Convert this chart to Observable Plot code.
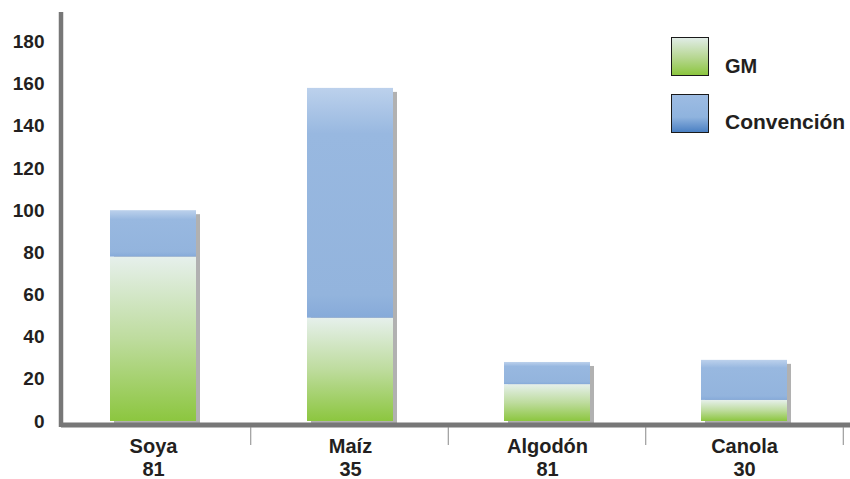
<!DOCTYPE html>
<html><head><meta charset="utf-8">
<script src="https://cdn.jsdelivr.net/npm/d3@7"></script>
<script src="https://cdn.jsdelivr.net/npm/@observablehq/plot@0.6"></script>
<style>
body{margin:0;background:#fff;}
#wrap{position:relative;width:850px;height:479px;font-family:"Liberation Sans",Arial,sans-serif;font-weight:bold;color:#231f20;}
.sw{position:absolute;box-sizing:border-box;width:38px;height:39px;border:1.5px solid #1a1a1a;}
.lt{position:absolute;line-height:20px;white-space:nowrap;}
</style></head><body><div id="wrap"></div>
<script>
const categories = ["Soya", "Maíz", "Algodón", "Canola"];
const gmShare = [81, 35, 81, 30];
const gmValues = [78, 49, 17.5, 10];
const totalValues = [100, 158, 28, 29];
const yTicks = [0, 20, 40, 60, 80, 100, 120, 140, 160, 180];
const seriesNames = ["GM", "Convención"];

const data = categories.map((c, i) => ({cat: c, gm: gmValues[i], total: totalValues[i], share: gmShare[i]}));

const chart = Plot.plot({
  width: 850, height: 479,
  marginLeft: 61, marginRight: 0, marginTop: 12, marginBottom: 58,
  x: {domain: categories, range: [53.25, 843.25], paddingInner: 0.565, paddingOuter: 0.2825, axis: null},
  y: {domain: [0, 194], axis: null},
  style: {fontFamily: '"Liberation Sans", Arial, sans-serif', fontWeight: "bold", color: "#231f20", background: "transparent", overflow: "visible"},
  marks: [
    Plot.barY(data, {x: "cat", y1: 0, y2: "total", fill: "#b1b1b1", dx: 4, dy: 4}),
    Plot.barY(data, {x: "cat", y1: 0, y2: "gm", fill: "url(#gmGrad)"}),
    Plot.barY(data, {x: "cat", y1: "gm", y2: "total", fill: "url(#convGrad)"}),
    Plot.ruleY([0], {stroke: "#777", strokeWidth: 5, dy: 3.5}),
    Plot.text(yTicks, {y: d => d, text: d => String(d), frameAnchor: "left", textAnchor: "end", dx: -17, fontSize: 19, fill: "#231f20"}),
    Plot.text(data, {x: "cat", y: 0, text: d => d.cat + "\n" + d.share, lineAnchor: "top", dy: 15, fontSize: 20, lineHeight: 1.15, fill: "#231f20"})
  ]
});

const svg = d3.select(chart);
svg.insert("defs", ":first-child").html(
  '<linearGradient id="gmGrad" x1="0" y1="0" x2="0" y2="1">' +
  '<stop offset="0" stop-color="#e6f0ec"/><stop offset="0.5" stop-color="#bedc9e"/><stop offset="1" stop-color="#8cc63f"/></linearGradient>' +
  '<linearGradient id="convGrad" x1="0" y1="0" x2="0" y2="1">' +
  '<stop offset="0" stop-color="#bcd1ec"/><stop offset="0.2" stop-color="#98b8e0"/><stop offset="0.9" stop-color="#93b4dd"/><stop offset="1" stop-color="#86aad9"/></linearGradient>'
);
const yr = chart.scale("y").range;
const xr = chart.scale("x").range;
const step = (xr[1] - xr[0]) / categories.length;
// y axis line
svg.append("line").attr("x1", 61).attr("x2", 61).attr("y1", Math.min(...yr)).attr("y2", Math.max(...yr) + 6)
  .attr("stroke", "#777").attr("stroke-width", 4.5);
// category dividers
svg.append("g").selectAll("line").data(categories).join("line")
  .attr("x1", (d, i) => xr[0] + (i + 1) * step).attr("x2", (d, i) => xr[0] + (i + 1) * step)
  .attr("y1", Math.max(...yr) + 6).attr("y2", Math.max(...yr) + 24)
  .attr("stroke", "#888").attr("stroke-width", 1);

const wrap = document.getElementById("wrap");
wrap.appendChild(chart);
chart.style.position = "absolute"; chart.style.left = "0"; chart.style.top = "0";

const legendSwatches = ["linear-gradient(to bottom,#e0ece6,#b5d68e 55%,#8cc63f)", "linear-gradient(to bottom,#9dbce3,#8fb3de 60%,#4b80c3)"];
const legendTops = [37, 94];
const textTops = [56, 112];
const textSizes = [20, 21];
seriesNames.forEach((n, i) => {
  const s = document.createElement("div");
  s.className = "sw"; s.style.left = "671px"; s.style.top = legendTops[i] + "px"; s.style.background = legendSwatches[i];
  wrap.appendChild(s);
  const t = document.createElement("div");
  t.className = "lt"; t.style.left = "725px"; t.style.top = textTops[i] + "px"; t.style.fontSize = textSizes[i] + "px";
  t.textContent = n;
  wrap.appendChild(t);
});
</script></body></html>
